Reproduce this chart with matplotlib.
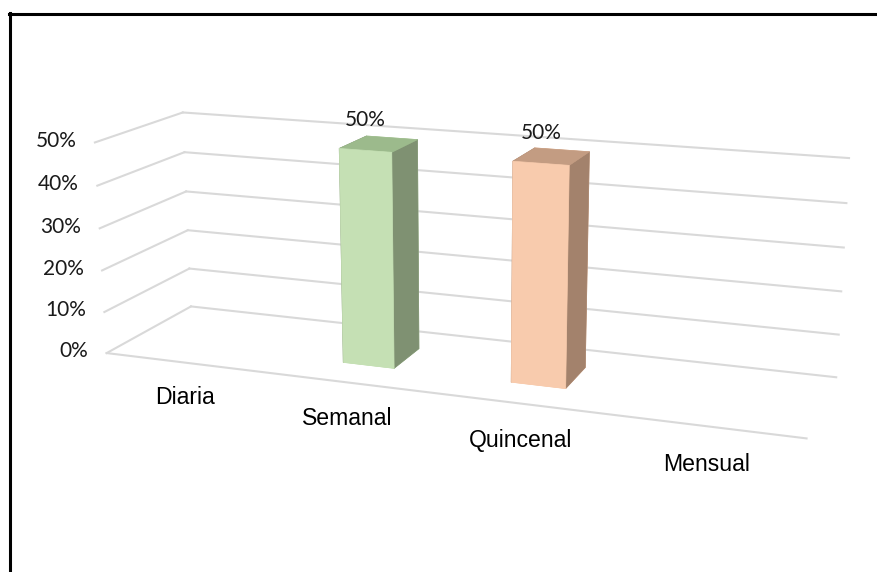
import numpy as np
import matplotlib
matplotlib.use("Agg")
import matplotlib.pyplot as plt
from matplotlib.lines import Line2D

categories = ["Diaria", "Semanal", "Quincenal", "Mensual"]
values = [0.0, 0.5, 0.5, 0.0]
yticks = [0.0, 0.1, 0.2, 0.3, 0.4, 0.5]
ytick_labels = ["0%", "10%", "20%", "30%", "40%", "50%"]

front_colors = ["#C5E0B4", "#C5E0B4", "#F8CBAD", "#F8CBAD"]
top_colors = ["#9CBA8C", "#9CBA8C", "#C39C82", "#C39C82"]
side_colors = ["#7F9172", "#7F9172", "#A3826C", "#A3826C"]

DEPTH = 1.0
BAR_W = 0.31
BAR_D = 0.38
GRID = "#D9D9D9"

W, H = 877, 572
fig = plt.figure(figsize=(W / 100, H / 100), dpi=100)
S = 572
ax = fig.add_axes([170 / W, 19 / H, S / W, S / H], projection="3d")
ax.set_proj_type("persp", focal_length=0.563)
ax.view_init(elev=15, azim=-70)
ax.set_box_aspect((4, DEPTH, 1.23), zoom=1.32)
ax.set_xlim(0, len(categories))
ax.set_ylim(0, DEPTH)
ax.set_zlim(0, max(yticks))
ax.set_axis_off()

# walls: side wall + back wall gridlines
for z in yticks:
    ax.plot([0, 0], [0, DEPTH], [z, z], color=GRID, lw=1.5, clip_on=False)
    ax.plot([0, len(categories)], [DEPTH, DEPTH], [z, z], color=GRID, lw=1.5,
            clip_on=False)
# front edge of the floor
ax.plot([0, len(categories)], [0, 0], [0, 0], color=GRID, lw=1.5, clip_on=False)

# columns
xs, dzs, cols = [], [], []
for i, v in enumerate(values):
    if v <= 0:
        continue
    xs.append(i + 0.5 - BAR_W / 2)
    dzs.append(v)
    # face order: -z, +z, -y, +y, -x, +x
    cols += [front_colors[i], top_colors[i], front_colors[i],
             front_colors[i], side_colors[i], side_colors[i]]
y0 = (DEPTH - BAR_D) / 2
bars = ax.bar3d(xs, [y0] * len(xs), [0] * len(xs), BAR_W, BAR_D, dzs,
                color=cols, shade=False, edgecolor=cols, linewidth=0.5)

for i, v in enumerate(values):
    if v > 0:
        ax.text(i + 0.5, y0, v + 0.045, f"{v:.0%}", ha="center", va="bottom",
                fontsize=15, family="Lato", color="#1a1a1a", clip_on=False)

for z, lab in zip(yticks, ytick_labels):
    ax.text(-0.12, 0, z, lab, ha="right", va="center",
            fontsize=15, family="Lato", color="#1a1a1a", clip_on=False)

for i, name in enumerate(categories):
    ax.text(i + 0.5, 0, -0.085, name, ha="center", va="center",
            fontsize=16.6, family="Liberation Sans", color="#000000",
            clip_on=False)

# chart border (left and top)
fig.add_artist(Line2D([9.5 / W, 9.5 / W], [0, 1 - 13 / H], color="black",
                      lw=2.2, transform=fig.transFigure))
fig.add_artist(Line2D([8.5 / W, 1], [1 - 13.5 / H, 1 - 13.5 / H],
                      color="black", lw=2.2, transform=fig.transFigure))

fig.savefig("out.png", dpi=100)
